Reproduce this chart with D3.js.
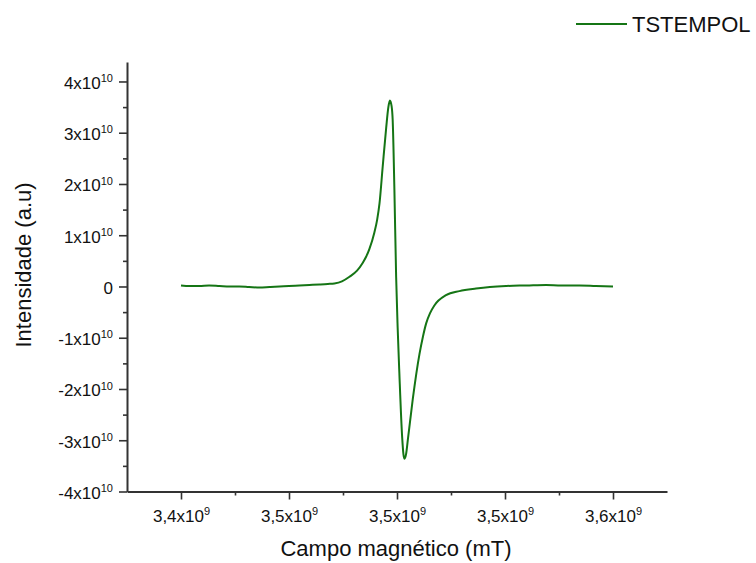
<!DOCTYPE html>
<html>
<head>
<meta charset="utf-8">
<script src="https://cdn.jsdelivr.net/npm/d3@7"></script>
<style>
  body { margin: 0; background: #fff; }
  svg { display: block; font-family: Arial, "Liberation Sans", sans-serif; }
</style>
</head>
<body>
<svg width="756" height="563"></svg>
<script>
// magnetic field (x10^9) and intensity (x10^10)
const field = [
  3.4000, 3.4040, 3.4085, 3.4130, 3.4178, 3.4225, 3.4270, 3.4315, 3.4363, 3.4410,
  3.4456, 3.4500, 3.4548, 3.4595, 3.4641, 3.4680, 3.4710, 3.4745, 3.4780, 3.4815,
  3.4841, 3.4857, 3.4872, 3.4895, 3.4908, 3.4919, 3.4934, 3.4950, 3.4960, 3.4967,
  3.4975, 3.4980, 3.4988, 3.4996, 3.5003, 3.5011, 3.5024, 3.5030, 3.5035, 3.5042,
  3.5050, 3.5073, 3.5104, 3.5120, 3.5135, 3.5153, 3.5173, 3.5227, 3.5289, 3.5366,
  3.5430, 3.5505, 3.5600, 3.5690, 3.5760, 3.5845, 3.5920, 3.6000
];
const intensity = [
  0.02, 0.01, 0.01, 0.02, 0.01, 0.00, 0.00, -0.01, -0.02, -0.01,
  0.00, 0.01, 0.02, 0.03, 0.04, 0.05, 0.06, 0.10, 0.19, 0.31,
  0.46, 0.58, 0.73, 1.05, 1.30, 1.62, 2.35, 3.10, 3.50, 3.63,
  3.52, 3.25, 1.88, 0.19, -0.80, -1.70, -2.95, -3.28, -3.36, -3.27,
  -3.00, -2.20, -1.32, -0.98, -0.72, -0.52, -0.37, -0.17, -0.09, -0.04,
  -0.01, 0.01, 0.02, 0.03, 0.02, 0.02, 0.01, 0.00
];

const xTicks = [3.40, 3.45, 3.50, 3.55, 3.60];
const xTickLabels = ['3,4', '3,5', '3,5', '3,5', '3,6'];
const yTicks = [-4, -3, -2, -1, 0, 1, 2, 3, 4];
const yTickLabels = ['-4', '-3', '-2', '-1', '0', '1', '2', '3', '4'];

const seriesName = 'TSTEMPOL';
const green = '#157515';
const axisColor = '#333';

const svg = d3.select('svg');

const xScale = d3.scaleLinear()
  .domain([3.375, 3.625])
  .range([127, 667]);

const yScale = d3.scaleLinear()
  .domain([-4, 4.38])
  .range([491.5, 62]);

// superscript labels like 4x10^10
function supLabel(sel, labels, exp) {
  sel.selectAll('.tick text').each(function (d, i) {
    const t = d3.select(this).text('');
    t.append('tspan').text(labels[i] === '0' ? '0' : labels[i] + 'x10');
    if (labels[i] !== '0') {
      t.append('tspan')
        .attr('font-size', '11px')
        .attr('dy', '-0.6em')
        .text(exp);
    }
  });
}

// minor ticks
svg.append('g')
  .attr('transform', 'translate(127,0)')
  .call(d3.axisLeft(yScale).tickValues(d3.range(-3.5, 4, 1)).tickSize(4).tickFormat(''))
  .call(g => g.select('.domain').remove())
  .call(g => g.selectAll('line').attr('stroke', axisColor).attr('stroke-width', 1.6));

svg.append('g')
  .attr('transform', 'translate(0,491.5)')
  .call(d3.axisBottom(xScale).tickValues([3.425, 3.475, 3.525, 3.575]).tickSize(4).tickFormat(''))
  .call(g => g.select('.domain').remove())
  .call(g => g.selectAll('line').attr('stroke', axisColor).attr('stroke-width', 1.6));

// y axis
svg.append('g')
  .attr('transform', 'translate(127,0)')
  .call(d3.axisLeft(yScale).tickValues(yTicks).tickSize(8).tickSizeOuter(0).tickPadding(6))
  .call(g => g.select('.domain').attr('stroke', axisColor).attr('stroke-width', 2))
  .call(g => g.selectAll('.tick line').attr('stroke', axisColor).attr('stroke-width', 1.6))
  .call(g => g.selectAll('.tick text')
    .attr('font-size', '17px')
    .attr('fill', '#111')
    .attr('dy', '0.4em')
    .attr('font-family', 'Arial, "Liberation Sans", sans-serif'))
  .call(g => supLabel(g, yTickLabels, '10'));

// x axis
svg.append('g')
  .attr('transform', 'translate(0,491.5)')
  .call(d3.axisBottom(xScale).tickValues(xTicks).tickSize(8).tickSizeOuter(0).tickPadding(10))
  .call(g => g.select('.domain').attr('stroke', axisColor).attr('stroke-width', 2))
  .call(g => g.selectAll('.tick line').attr('stroke', axisColor).attr('stroke-width', 1.6))
  .call(g => g.selectAll('.tick text')
    .attr('font-size', '17px')
    .attr('fill', '#111')
    .attr('font-family', 'Arial, "Liberation Sans", sans-serif'))
  .call(g => supLabel(g, xTickLabels, '9'));

// axis titles
svg.append('text')
  .attr('x', 396)
  .attr('y', 556)
  .attr('text-anchor', 'middle')
  .attr('font-size', '22px')
  .attr('fill', '#111')
  .text('Campo magnético (mT)');

svg.append('text')
  .attr('transform', 'translate(31,265) rotate(-90)')
  .attr('text-anchor', 'middle')
  .attr('font-size', '22px')
  .attr('fill', '#111')
  .text('Intensidade (a.u)');

// spectrum
const line = d3.line()
  .x((d, i) => xScale(field[i]))
  .y(d => yScale(d))
  .curve(d3.curveMonotoneX);

svg.append('path')
  .datum(intensity)
  .attr('fill', 'none')
  .attr('stroke', green)
  .attr('stroke-width', 2)
  .attr('d', line);

// legend
svg.append('line')
  .attr('x1', 576).attr('x2', 627)
  .attr('y1', 24).attr('y2', 24)
  .attr('stroke', green)
  .attr('stroke-width', 2);

svg.append('text')
  .attr('x', 632)
  .attr('y', 32)
  .attr('font-size', '22px')
  .attr('fill', '#111')
  .text(seriesName);
</script>
</body>
</html>
